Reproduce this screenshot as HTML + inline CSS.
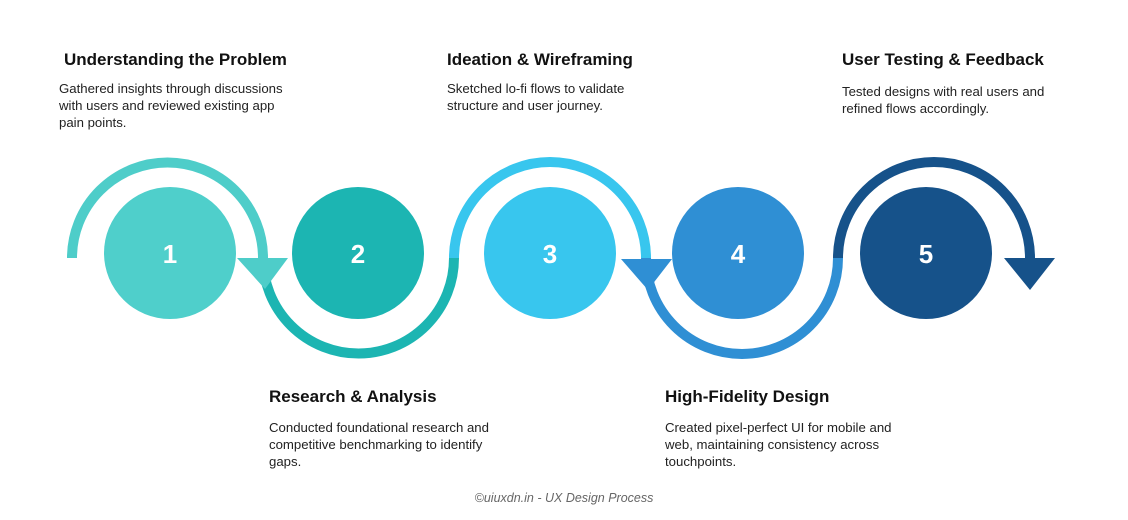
<!DOCTYPE html>
<html><head><meta charset="utf-8"><style>
body{margin:0;width:1128px;height:520px;background:#fff;position:relative;overflow:hidden;font-family:"Liberation Sans",sans-serif;color:#111}
.h{position:absolute;font-weight:bold;font-size:17px;white-space:nowrap}
.p{position:absolute;font-size:13.2px;line-height:17px;color:#222;white-space:nowrap}
.f{position:absolute;left:0;width:1128px;top:491px;text-align:center;font-size:12.5px;color:#666;font-style:italic}
</style></head><body>
<svg width="1128" height="520" style="position:absolute;left:0;top:0">
<g fill="none" stroke-width="10">
<path d="M72 258 A95.5 95.5 0 0 1 263 258" stroke="#4ecdc9"/>
<path d="M263 258 A95.5 95.5 0 0 0 454 258" stroke="#1cb5b2"/>
<path d="M454 258 A96 96 0 0 1 646 258" stroke="#38c6ee"/>
<path d="M646 258 A96 96 0 0 0 838 258" stroke="#2f8fd4"/>
<path d="M838 258 A96 96 0 0 1 1030 258" stroke="#16528a"/>
</g>
<polygon points="237,258 288,258 265,289" fill="#4ecdc9"/>
<polygon points="621,259 672,259 648,290" fill="#2f8fd4"/>
<polygon points="1004,258 1055,258 1030,290" fill="#16528a"/>
<circle cx="170" cy="253" r="66" fill="#4fcfcb"/>
<circle cx="358" cy="253" r="66" fill="#1cb5b2"/>
<circle cx="550" cy="253" r="66" fill="#38c6ee"/>
<circle cx="738" cy="253" r="66" fill="#2f8fd4"/>
<circle cx="926" cy="253" r="66" fill="#16528a"/>
<g fill="#fff" font-family="Liberation Sans" font-weight="bold" font-size="26" text-anchor="middle">
<text x="170" y="263">1</text><text x="358" y="263">2</text><text x="550" y="263">3</text><text x="738" y="263">4</text><text x="926" y="263">5</text>
</g>
</svg>
<div class="h" style="left:64px;top:50px">Understanding the Problem</div>
<div class="p" style="left:59px;top:80px">Gathered insights through discussions<br>with users and reviewed existing app<br>pain points.</div>
<div class="h" style="left:447px;top:50px">Ideation &amp; Wireframing</div>
<div class="p" style="left:447px;top:80px">Sketched lo-fi flows to validate<br>structure and user journey.</div>
<div class="h" style="left:842px;top:50px">User Testing &amp; Feedback</div>
<div class="p" style="left:842px;top:83px">Tested designs with real users and<br>refined flows accordingly.</div>
<div class="h" style="left:269px;top:387px">Research &amp; Analysis</div>
<div class="p" style="left:269px;top:419px">Conducted foundational research and<br>competitive benchmarking to identify<br>gaps.</div>
<div class="h" style="left:665px;top:387px">High-Fidelity Design</div>
<div class="p" style="left:665px;top:419px">Created pixel-perfect UI for mobile and<br>web, maintaining consistency across<br>touchpoints.</div>
<div class="f">©uiuxdn.in - UX Design Process</div>
</body></html>
